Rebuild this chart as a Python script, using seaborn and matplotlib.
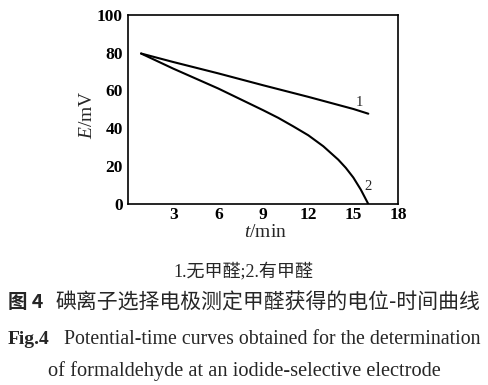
import matplotlib
matplotlib.use("Agg")
import matplotlib.pyplot as plt
import seaborn as sns
import pandas as pd

# Data
t1 = [0.85, 3, 6, 9, 12, 15, 16]
e1 = [79.5, 75.0, 69.0, 62.7, 56.6, 50.2, 47.7]
t2 = [0.85, 3, 6, 9, 10, 11, 12, 13, 14, 14.5, 15, 15.5, 16]
e2 = [79.5, 71.5, 61.0, 49.5, 45.5, 41.0, 36.3, 30.5, 23.4, 19.1, 14.0, 7.6, 0.0]
xticks = [3, 6, 9, 12, 15, 18]
yticks = [0, 20, 40, 60, 80, 100]

sns.set_style("white")
plt.rcParams['font.family'] = ['Liberation Serif', 'Noto Sans CJK SC']
plt.rcParams['mathtext.fontset'] = 'custom'
plt.rcParams['mathtext.it'] = 'Liberation Serif:italic'
plt.rcParams['mathtext.rm'] = 'Liberation Serif'

W, H = 488, 385
fig = plt.figure(figsize=(W / 100, H / 100), dpi=100)
ax = fig.add_axes([128.3 / W, 1 - 204 / H, (398.3 - 128.3) / W, (204 - 14.7) / H])

df1 = pd.DataFrame({"t": t1, "E": e1})
df2 = pd.DataFrame({"t": t2, "E": e2})
sns.lineplot(data=df1, x="t", y="E", ax=ax, color="black", linewidth=1.5, sort=False)
sns.lineplot(data=df2, x="t", y="E", ax=ax, color="black", linewidth=1.5, sort=False)

ax.set_xlim(0, 18)
ax.set_ylim(0, 100)
ax.set_xticks(xticks)
ax.set_yticks(yticks)
ax.set_xticklabels([str(v) for v in xticks], fontsize=12.5, fontweight="bold")
ax.set_yticklabels([str(v) for v in yticks], fontsize=12.5, fontweight="bold")
ax.tick_params(axis="x", direction="in", length=3, width=1, pad=2, colors="black")
ax.tick_params(axis="y", direction="in", length=3, width=1, pad=4, colors="black")
ax.set_xlabel("")
ax.set_ylabel("")
for s in ax.spines.values():
    s.set_linewidth(1.2)
    s.set_color("black")

ax.text(15.4, 53.5, "1", fontsize=10.5, ha="center", va="center")
ax.text(16.0, 9.0, "2", fontsize=10.5, ha="center", va="center")

fig.text(87 / W, 1 - 115 / H, "$E$/mV", rotation=90, fontsize=14,
         ha="center", va="center")
fig.text(265 / W, 1 - 237 / H, "$t$/min", fontsize=14,
         ha="center", va="baseline")

fam = ['Liberation Serif', 'Noto Sans CJK SC']
fig.text(243 / W, 1 - 271 / H, "1.无甲醛;2.有甲醛", fontsize=13, family=fam,
         ha="center", va="center")
fig.text(8 / W, 1 - 303 / H, "图 4", fontsize=14, family=['Noto Sans CJK SC'],
         fontweight="bold", ha="left", va="center")
fig.text(480 / W, 1 - 303 / H, "碘离子选择电极测定甲醛获得的电位-时间曲线", fontsize=15,
         family=['Noto Sans CJK SC'], ha="right", va="center")
fig.text(8 / W, 1 - 340 / H, "Fig.4", fontsize=14, family=fam, fontweight="bold",
         ha="left", va="center")
fig.text(481 / W, 1 - 340 / H, "Potential-time curves obtained for the determination",
         fontsize=14.3, family=fam, ha="right", va="center")
fig.text(244 / W, 1 - 371 / H, "of formaldehyde at an iodide-selective electrode",
         fontsize=14.7, family=fam, ha="center", va="center")

fig.savefig("out.png", dpi=100)
